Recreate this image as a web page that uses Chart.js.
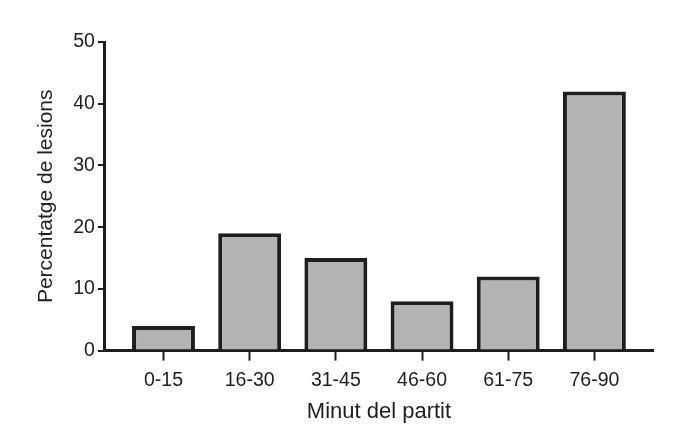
<!DOCTYPE html>
<html>
<head>
<meta charset="utf-8">
<script src="https://cdn.jsdelivr.net/npm/chart.js@4.4.1/dist/chart.umd.min.js"></script>
<style>
  html, body { margin: 0; padding: 0; background: #fff; }
  #wrap { width: 700px; height: 438px; }
</style>
</head>
<body>
<div id="wrap"><canvas id="chart"></canvas></div>
<script>
// injuries by match minute
const categories = ['0-15', '16-30', '31-45', '46-60', '61-75', '76-90'];
const percentages = [4, 19, 15, 8, 12, 42];
const yTicks = [0, 10, 20, 30, 40, 50];

const ink = '#1e1e1e';
const family = 'Liberation Sans, Arial, sans-serif';
const tickFont = { family: family, size: 19.5 };

const ctx = document.getElementById('chart').getContext('2d');
new Chart(ctx, {
    type: 'bar',
    data: {
        datasets: [
            {
                data: percentages.map((v, i) => ({ x: i, y: v })),
                backgroundColor: '#b2b3b5',
                borderColor: ink,
                borderWidth: 4,
                borderSkipped: 'start',
                barPercentage: 0.73,
                categoryPercentage: 1,
            },
        ],
    },
    options: {
        responsive: true,
        maintainAspectRatio: false,
        animation: false,
        layout: { padding: { left: 30, right: 47, top: 42, bottom: 11 } },
        plugins: {
            legend: { display: false },
            tooltip: { enabled: false },
        },
        scales: {
            x: {
                type: 'linear',
                offset: false,
                min: -0.68,
                max: 5.68,
                afterBuildTicks: (scale) => {
                    scale.ticks = categories.map((c, i) => ({ value: i }));
                },
                // only the tick marks below the axis should show
                grid: {
                    offset: false,
                    drawOnChartArea: true,
                    drawTicks: true,
                    tickLength: 10,
                    color: 'rgba(0,0,0,0)',
                    tickColor: ink,
                    tickWidth: 2,
                },
                border: { display: true, color: ink, width: 3 },
                ticks: {
                    color: ink,
                    font: tickFont,
                    padding: 8,
                    maxRotation: 0,
                    callback: (value) => categories[value] ?? '',
                },
                title: {
                    display: true,
                    text: 'Minut del partit',
                    color: ink,
                    font: { family: family, size: 22, lineHeight: 1 },
                    padding: { top: 1 },
                },
            },
            y: {
                min: 0,
                max: 50,
                afterBuildTicks: (scale) => {
                    scale.ticks = yTicks.map((v) => ({ value: v }));
                },
                grid: { drawOnChartArea: false, drawTicks: true, tickLength: 7, color: ink, lineWidth: 2 },
                border: { display: true, color: ink, width: 3 },
                ticks: { color: ink, font: tickFont, padding: 3 },
                title: {
                    display: true,
                    text: 'Percentatge de lesions',
                    color: ink,
                    font: { family: family, size: 21 },
                    padding: { bottom: 11 },
                },
            },
        },
    },
});
</script>
</body>
</html>
